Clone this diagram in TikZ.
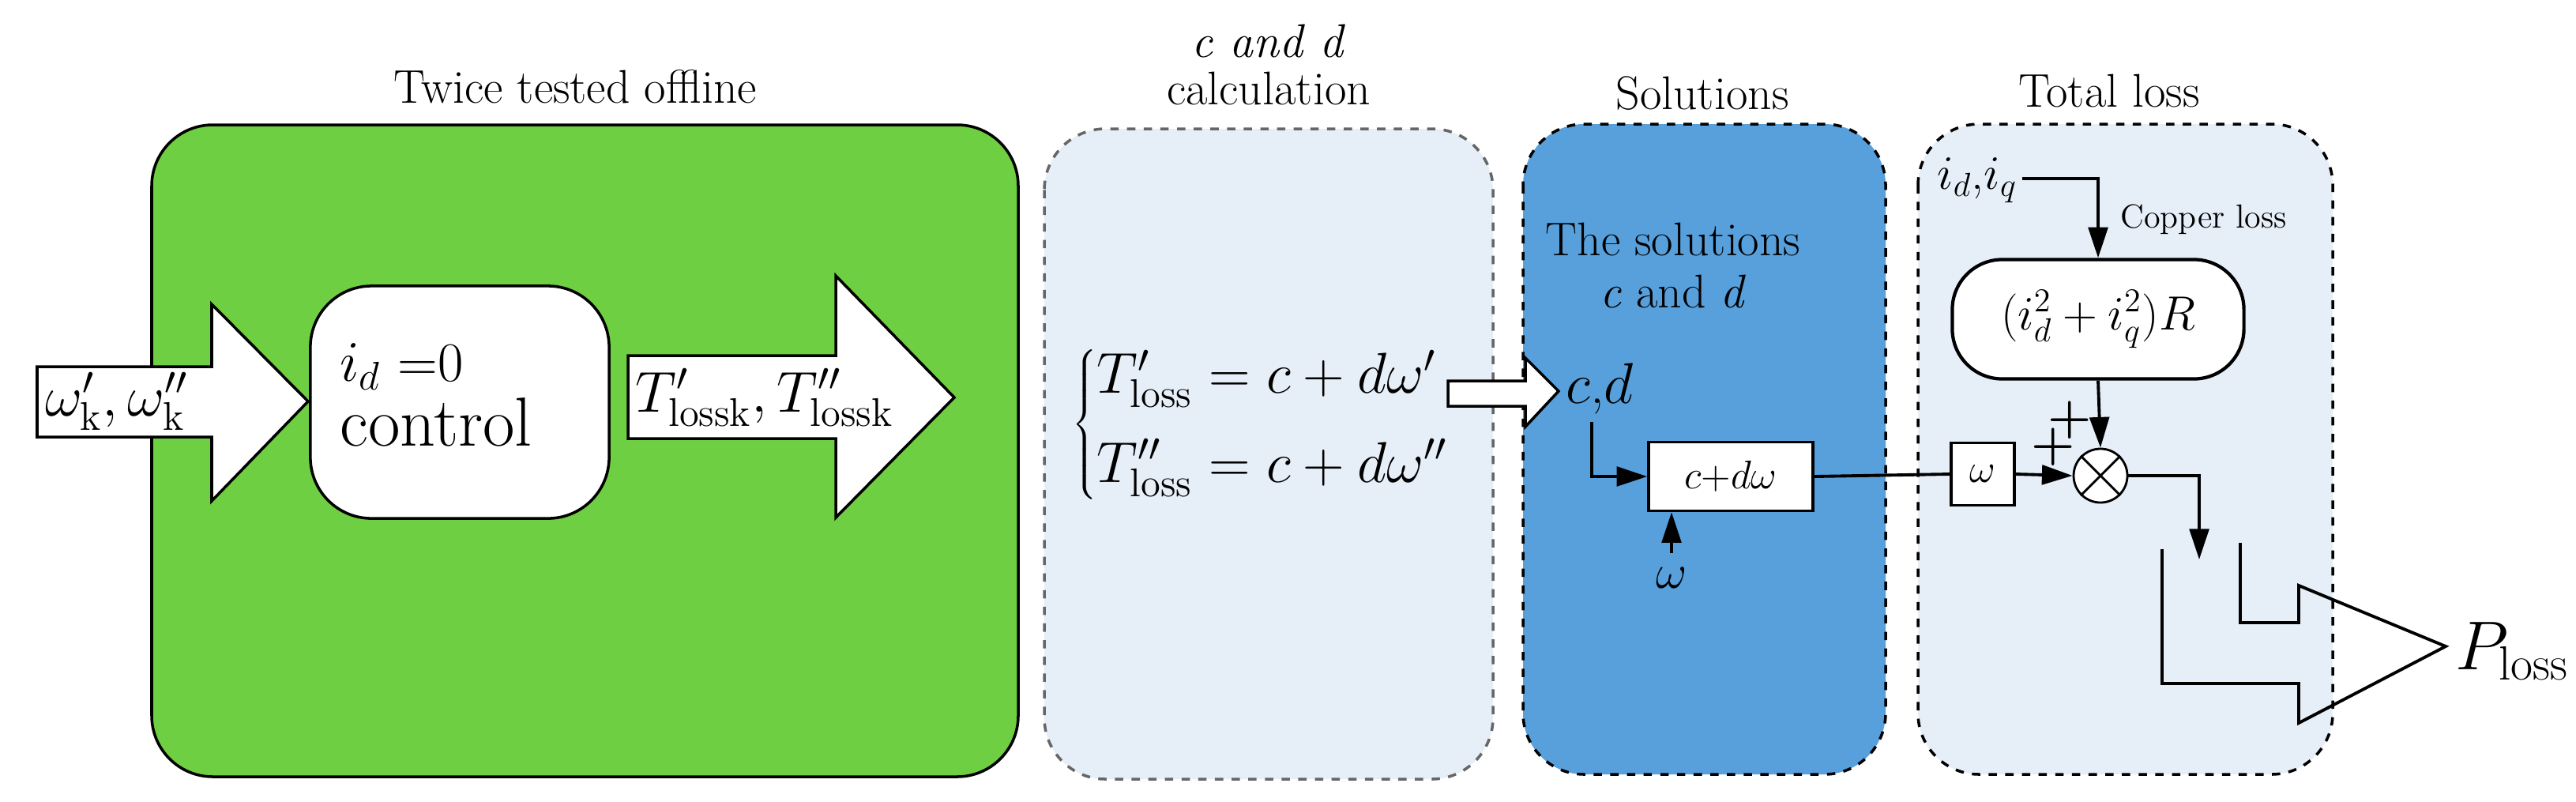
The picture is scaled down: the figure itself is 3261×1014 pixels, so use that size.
\documentclass[tikz,border=0pt]{standalone}
\usetikzlibrary{arrows.meta,shapes.geometric}
\definecolor{grn}{HTML}{6DCF41}
\definecolor{lblue}{HTML}{E6EEF8}
\definecolor{dblue}{HTML}{57A0DC}
\begin{document}
\begin{tikzpicture}[x=0.01cm,y=-0.01cm,
  title/.style={font=\fontsize{17}{19}\selectfont},
  blk/.style={draw=black,line width=1pt,fill=white},
  ln/.style={line width=1.1pt,-{Triangle[length=11pt,width=7pt]}},
  pl/.style={line width=1.1pt}]
\useasboundingbox (0,0) rectangle (3261,1014);
% panels
\draw[line width=1pt,fill=grn,rounded corners=22pt] (192,158) rectangle (1289,983);
\draw[line width=1pt,dashed,draw=gray!80!black,fill=lblue,rounded corners=22pt] (1322,163) rectangle (1890,986);
\draw[line width=1pt,dashed,fill=dblue,rounded corners=22pt] (1928,157) rectangle (2387,980);
\draw[line width=1pt,dashed,fill=lblue,rounded corners=22pt] (2428,157) rectangle (2953,980);
% titles
\node[title] (t1) at (728,110) {Twice tested offline};
\node[title,align=center] (t2) at (1606,82) {\textit{c and d}\\[-2pt]calculation};
\node[title] (t3) at (2155,118) {Solutions};
\node[title] (t4) at (2670,115) {Total loss};
% left block arrow
\draw[blk] (47,464) -- (268,464) -- (268,385) -- (390,508) -- (268,634) -- (268,553) -- (47,553) -- cycle;
\node[font=\fontsize{20}{22}\selectfont,anchor=west] (win) at (45,508) {$\omega'_{\mathrm{k}},\omega''_{\mathrm{k}}$};
% control
\node[blk,rounded corners=22pt,minimum width=378*0.2845pt,minimum height=294*0.2845pt] (ctl) at (582,509) {};
\node[font=\fontsize{20}{22}\selectfont,anchor=west] (idz) at (418,464) {$i_d$ =0};
\node[font=\fontsize{25}{28}\selectfont,anchor=west] (ctxt) at (418,534) {control};
% right block arrow
\draw[blk] (795,450) -- (1058,450) -- (1058,349) -- (1208,503) -- (1058,655) -- (1058,555) -- (795,555) -- cycle;
\node[font=\fontsize{20}{22}\selectfont,anchor=west] (tout) at (792,503) {$T'_{\mathrm{lossk}},T''_{\mathrm{lossk}}$};
% equations
\node[font=\fontsize{20}{24}\selectfont,anchor=west] (eq) at (1345,537) {$\left\{\begin{array}{@{}l@{}}T'_{\mathrm{loss}}=c+d\omega'\\[8pt] T''_{\mathrm{loss}}=c+d\omega''\end{array}\right.$};
% small arrow
\draw[blk] (1833,482) -- (1931,482) -- (1931,453) -- (1973,495) -- (1931,540) -- (1931,514) -- (1833,514) -- cycle;
% solutions text
\node[title,align=center] (sol) at (2118,336) {The solutions\\\textit{c} and \textit{d}};
\node[font=\fontsize{20}{22}\selectfont,anchor=west] (cd) at (1970,492) {$c$,$d$};
\coordinate (cdl) at (2015,534);
\node[blk,line width=1pt,minimum width=208*0.2845pt,minimum height=87*0.2845pt,font=\fontsize{14}{16}\selectfont] (cdw) at (2191,603) {$c$+$d\omega$};
\node[font=\fontsize{18}{20}\selectfont] (wi) at (2116,731) {$\omega$};
\coordinate (wt) at (2116,700);
\node[blk,line width=1pt,minimum width=80*0.2845pt,minimum height=79*0.2845pt,font=\fontsize{14}{16}\selectfont] (wb) at (2510,600) {$\omega$};
\node[draw,circle,fill=white,line width=0.8pt,minimum size=68*0.2845pt,inner sep=0pt] (sum) at (2659,602) {};
\draw[line width=0.8pt] (sum.north west) -- (sum.south east) (sum.north east) -- (sum.south west);
\node[font=\bfseries\fontsize{18}{20}\selectfont] (p1) at (2620,532) {+};
\node[font=\bfseries\fontsize{18}{20}\selectfont] (p2) at (2599,566) {+};
% copper
\node[blk,line width=1.2pt,rounded corners=18pt,minimum width=369*0.2845pt,minimum height=151*0.2845pt,font=\fontsize{18}{20}\selectfont] (cu) at (2656,404) {$(i_d^2+i_q^2)R$};
\node[font=\fontsize{18}{20}\selectfont,anchor=west] (idq) at (2440,228) {$i_d$,$i_q$};
\coordinate (idqe) at (2560,226);
\node[font=\fontsize{12}{14}\selectfont,anchor=west] (cul) at (2672,278) {Copper loss};
% connectors
\draw[pl,-{Triangle[length=11pt,width=7pt]}] (cdl) |- (cdw.west);
\draw[ln] (wt) -- (cdw.south -| wt);
\draw[pl] (cdw.east) -- (wb.west);
\draw[ln] (wb.east) -- (sum.west);
\draw[ln] (idqe) -| (cu.north);
\draw[ln] (cu.south) -- (sum.north);
\coordinate (sdn) at (2784,708);
\draw[ln] (sum.east) -| (sdn);
% output arrow
\coordinate (o1) at (2737,695);
\coordinate (o2) at (2836,687);
\coordinate (ptip) at (3096,818);
\draw[pl] (o1) -- (2737,865) -- (2910,865) -- (2910,915) -- (ptip) -- (2910,741) -- (2910,788) -- (2836,788) -- (o2);
\node[font=\fontsize{24}{26}\selectfont,anchor=west] (pl) at (3096,824) {$P_{\mathrm{loss}}$};
\end{tikzpicture}
\end{document}
